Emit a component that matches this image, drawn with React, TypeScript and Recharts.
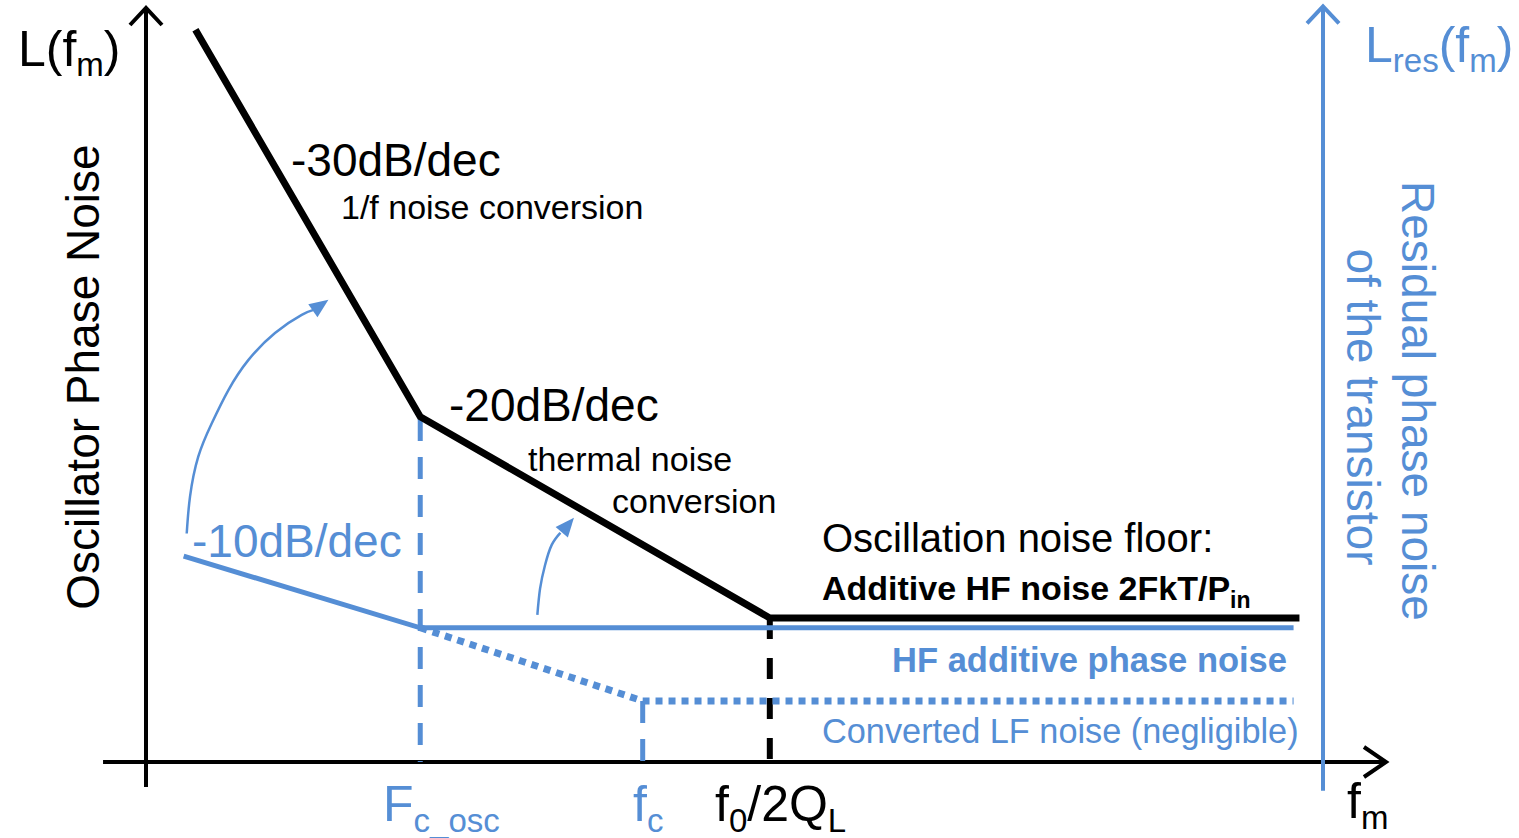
import { LineChart, Line, XAxis, YAxis, ReferenceLine, ReferenceDot } from 'recharts'

// abstract units: x = log-frequency (0..100 across the plot), y = noise level (0..100)
const oscX = [4.2, 23.3, 53.0, 98.0]
const oscY = [97.1, 45.8, 19.1, 19.1]

const hfX = [3.2, 23.3, 97.5]
const hfY = [27.3, 17.8, 17.8]

const lfX = [23.3, 42.2, 97.5]
const lfY = [17.8, 8.1, 8.1]

// corner frequencies Fc_osc, fc, f0/2QL and the level where each drop line starts
const cornerX = [23.3, 42.2, 53.0]
const cornerY = [45.5, 8.1, 19.1]

// curved conversion arrows
const arrow1X = [3.46, 3.74, 4.44, 5.58, 6.99, 8.69, 10.96, 13.23, 14.3]
const arrow1Y = [30.3, 35.2, 40.5, 44.9, 49.3, 53.3, 56.9, 59.3, 60.0]
const arrow1Tip = [15.5, 61.3]
const arrow2X = [33.25, 33.48, 33.9, 34.47, 35.2]
const arrow2Y = [19.5, 23.0, 26.1, 28.8, 30.4]
const arrow2Tip = [36.36, 32.4]

// axis extents
const xAxisSpan = [-3.65, 105.35]
const yAxisSpan = [-3.3, 100]
const rightAxisSpan = [-3.8, 100.2]

const BLUE = '#558ED5'
const FONT = '"Liberation Sans", Arial, sans-serif'

const toPoints = (xs: number[], ys: number[]) => xs.map((x, i) => ({ x, y: ys[i] }))

const chevron = (dir: 'up' | 'right', color: string) => (p: any) => (
  <path
    d={dir === 'up' ? 'M-16,17 L0,0 L16,17' : 'M-22,-15 L0,0 L-22,15'}
    transform={`translate(${p.cx},${p.cy})`}
    fill="none"
    stroke={color}
    strokeWidth={4}
  />
)

const arrowHead = (angle: number) => (p: any) => (
  <path
    d="M0,0 L-19,-8 L-19,8 Z"
    transform={`translate(${p.cx},${p.cy}) rotate(${angle})`}
    fill={BLUE}
  />
)

function Labels() {
  return (
    <svg
      width={1519}
      height={838}
      style={{ position: 'absolute', left: 0, top: 0, pointerEvents: 'none' }}
      fontFamily={FONT}
    >
      <text x={18} y={66} fontSize={50} fill="#000">
        L(f<tspan fontSize={33} dy={10}>m</tspan><tspan dy={-10}>)</tspan>
      </text>
      <text x={1365} y={62} fontSize={50} fill={BLUE}>
        L<tspan fontSize={33} dy={10}>res</tspan><tspan dy={-10}>(f</tspan>
        <tspan fontSize={33} dy={10}>m</tspan><tspan dy={-10}>)</tspan>
      </text>
      <text x={99} y={377} fontSize={46} textAnchor="middle" transform="rotate(-90 99 377)">
        Oscillator Phase Noise
      </text>
      <text x={1402} y={401} fontSize={46} fill={BLUE} textAnchor="middle" transform="rotate(90 1402 401)">
        Residual phase noise
      </text>
      <text x={1347} y={407} fontSize={46} fill={BLUE} textAnchor="middle" transform="rotate(90 1347 407)">
        of the transistor
      </text>

      <text x={291} y={176} fontSize={46}>-30dB/dec</text>
      <text x={341} y={219} fontSize={34}>1/f noise conversion</text>
      <text x={449} y={421} fontSize={46}>-20dB/dec</text>
      <text x={528} y={471} fontSize={34}>thermal noise</text>
      <text x={612} y={513} fontSize={34}>conversion</text>
      <text x={192} y={557} fontSize={46} fill={BLUE}>-10dB/dec</text>

      <text x={822} y={552} fontSize={40}>Oscillation noise floor:</text>
      <text x={822} y={600} fontSize={34} fontWeight="bold">
        Additive HF noise 2FkT/P<tspan fontSize={23} dy={8}>in</tspan>
      </text>
      <text x={1287} y={672} fontSize={34.5} fontWeight="bold" fill={BLUE} textAnchor="end">
        HF additive phase noise
      </text>
      <text x={822} y={743} fontSize={34.3} fill={BLUE}>Converted LF noise (negligible)</text>

      <text x={383} y={821} fontSize={50} fill={BLUE}>
        F<tspan fontSize={33} dy={11}>c_osc</tspan>
      </text>
      <text x={633} y={821} fontSize={50} fill={BLUE}>
        f<tspan fontSize={33} dy={11}>c</tspan>
      </text>
      <text x={715} y={821} fontSize={50}>
        f<tspan fontSize={33} dy={11}>0</tspan><tspan dy={-11}>/2Q</tspan>
        <tspan fontSize={33} dy={11}>L</tspan>
      </text>
      <text x={1347} y={818} fontSize={50}>
        f<tspan fontSize={33} dy={11}>m</tspan>
      </text>
    </svg>
  )
}

export default function App() {
  const dashStyles = [
    { stroke: BLUE, strokeWidth: 5, strokeDasharray: '22 16' },
    { stroke: BLUE, strokeWidth: 5, strokeDasharray: '22 16' },
    { stroke: '#000', strokeWidth: 6, strokeDasharray: '21 19' },
  ]

  return (
    <div style={{ position: 'absolute', left: 0, top: 0, width: 1519, height: 838, background: '#fff' }}>
      <LineChart width={1519} height={838} margin={{ top: 8, right: 196, bottom: 76, left: 146 }}>
        <XAxis type="number" dataKey="x" domain={[0, 100]} hide />
        <YAxis type="number" dataKey="y" domain={[0, 100]} hide />

        {/* axes */}
        <ReferenceLine
          segment={[{ x: 0, y: yAxisSpan[0] }, { x: 0, y: yAxisSpan[1] }]}
          stroke="#000" strokeWidth={4} ifOverflow="visible"
        />
        <ReferenceLine
          segment={[{ x: xAxisSpan[0], y: 0 }, { x: xAxisSpan[1], y: 0 }]}
          stroke="#000" strokeWidth={4} ifOverflow="visible"
        />
        <ReferenceLine
          segment={[{ x: 100, y: rightAxisSpan[0] }, { x: 100, y: rightAxisSpan[1] }]}
          stroke={BLUE} strokeWidth={4} ifOverflow="visible"
        />
        <ReferenceDot x={0} y={yAxisSpan[1]} ifOverflow="visible" shape={chevron('up', '#000')} />
        <ReferenceDot x={100} y={rightAxisSpan[1]} ifOverflow="visible" shape={chevron('up', BLUE)} />
        <ReferenceDot x={xAxisSpan[1]} y={0} ifOverflow="visible" shape={chevron('right', '#000')} />

        {/* corner-frequency drop lines */}
        {cornerX.map((cx, i) => (
          <ReferenceLine
            key={cx}
            segment={[{ x: cx, y: cornerY[i] }, { x: cx, y: 0 }]}
            ifOverflow="visible"
            {...dashStyles[i]}
          />
        ))}

        <Line
          data={toPoints(lfX, lfY)} dataKey="y" type="linear"
          stroke={BLUE} strokeWidth={7} strokeDasharray="7 6"
          dot={false} activeDot={false} isAnimationActive={false}
        />
        <Line
          data={toPoints(hfX, hfY)} dataKey="y" type="linear"
          stroke={BLUE} strokeWidth={5}
          dot={false} activeDot={false} isAnimationActive={false}
        />
        <Line
          data={toPoints(oscX, oscY)} dataKey="y" type="linear"
          stroke="#000" strokeWidth={7} strokeLinejoin="miter"
          dot={false} activeDot={false} isAnimationActive={false}
        />

        <Line
          data={toPoints(arrow1X, arrow1Y)} dataKey="y" type="natural"
          stroke={BLUE} strokeWidth={2.5}
          dot={false} activeDot={false} isAnimationActive={false}
        />
        <Line
          data={toPoints(arrow2X, arrow2Y)} dataKey="y" type="natural"
          stroke={BLUE} strokeWidth={2.5}
          dot={false} activeDot={false} isAnimationActive={false}
        />
        <ReferenceDot x={arrow1Tip[0]} y={arrow1Tip[1]} ifOverflow="visible" shape={arrowHead(-35)} />
        <ReferenceDot x={arrow2Tip[0]} y={arrow2Tip[1]} ifOverflow="visible" shape={arrowHead(-50)} />
      </LineChart>
      <Labels />
    </div>
  )
}
